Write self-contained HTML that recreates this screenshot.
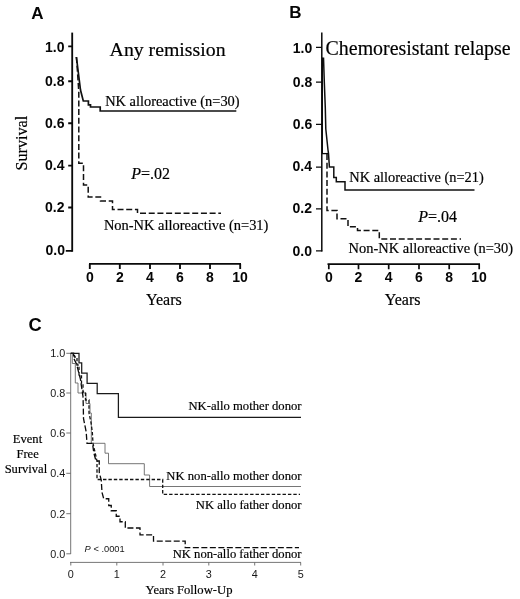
<!DOCTYPE html>
<html><head><meta charset="utf-8"><title>Figure</title>
<style>
html,body{margin:0;padding:0;background:#fff;}
svg{display:block;}
.sb{font-family:"Liberation Sans",Arial,sans-serif;font-weight:bold;fill:#050505;}
.sr{font-family:"Liberation Sans",Arial,sans-serif;fill:#161616;}
.tr{font-family:"Liberation Serif","Times New Roman",serif;fill:#000;stroke:#000;stroke-width:0.18px;}
</style></head><body>
<svg width="520" height="599" viewBox="0 0 520 599">
<rect width="520" height="599" fill="#fff"/>

<!-- ===== Panel A ===== -->
<g id="panelA">
<text class="sb" x="31.2" y="18.7" font-size="17">A</text>
<g stroke="#0a0a0a" stroke-width="1.85" fill="none">
<path d="M72.2 32.6V251.7"/>
<path d="M68.2 46.4H72.5M68.2 81.2H72.5M68.2 123.2H72.5M68.2 165.6H72.5M68.2 207.5H72.5M65.8 250.8H72.5"/>
<path d="M89 263.9H241"/>
<path d="M89.8 264V269M119.8 264V269M150 264V269M180 264V269M210 264V269M240.2 264V269"/>
</g>
<g class="sb" font-size="14" text-anchor="end">
<text x="64.5" y="51.7">1.0</text><text x="64.5" y="85.5">0.8</text><text x="64.5" y="127.8">0.6</text>
<text x="64.5" y="170.4">0.4</text><text x="64.5" y="212.3">0.2</text><text x="65" y="254.7">0.0</text>
</g>
<g class="sb" font-size="14" text-anchor="middle">
<text x="89.8" y="282">0</text><text x="119.8" y="282">2</text><text x="150" y="282">4</text>
<text x="180" y="282">6</text><text x="210" y="282">8</text><text x="240" y="282">10</text>
</g>
<text class="tr" font-size="16.2" transform="translate(27.2 170.6) rotate(-90)">Survival</text>
<text class="tr" font-size="16" x="146" y="304.6">Years</text>
<text class="tr" font-size="19.8" x="109.6" y="55.7">Any remission</text>
<text class="tr" font-size="14.4" x="105.2" y="105.9">NK alloreactive (n=30)</text>
<text class="tr" font-size="14.45" x="103.9" y="230.2">Non-NK alloreactive (n=31)</text>
<text class="tr" font-size="16" x="131.3" y="178.7"><tspan font-style="italic">P</tspan>=.02</text>
<path d="M76.4 57L78 70L80.5 90L83.3 101H88.4V104.8H90.5V107H100.2V111H236.3" stroke="#111" stroke-width="1.7" fill="none"/>
<path d="M76.4 57L77.5 72L78.8 92V163.3H83.5V185H88.2V197H100.5V201H112.5V209.6H137.5V213.2H221" stroke="#111" stroke-width="1.5" fill="none" stroke-dasharray="6 2.7"/>
</g>

<!-- ===== Panel B ===== -->
<g id="panelB">
<text class="sb" x="289.2" y="18.2" font-size="17">B</text>
<g stroke="#0a0a0a" stroke-width="1.3" fill="none">
<path d="M321.8 32.5V251.5" stroke-width="1.5"/>
<path d="M316 47.4H322M316 82.1H322M316 124.3H322M316 167.2H322M316 208.9H322M316 250.9H322.3"/>
<path d="M322 153.6H328.4"/>
<path d="M322.5 57.5V153.6" stroke-width="1"/>
</g>
<g stroke="#0a0a0a" stroke-width="1.7" fill="none">
<path d="M327.5 264.2H480"/>
<path d="M328.8 264.3V269.2M358.5 264.3V269.2M388.7 264.3V269.2M419 264.3V269.2M449.2 264.3V269.2M479.2 264.3V269.2"/>
</g>
<g class="sb" font-size="14" text-anchor="end">
<text x="312.3" y="52.5">1.0</text><text x="312.3" y="87">0.8</text><text x="312.3" y="129.3">0.6</text>
<text x="312" y="171">0.4</text><text x="312" y="212.7">0.2</text><text x="312" y="256">0.0</text>
</g>
<g class="sb" font-size="14" text-anchor="middle">
<text x="328.8" y="282">0</text><text x="358.5" y="282">2</text><text x="388.7" y="282">4</text>
<text x="419" y="282">6</text><text x="449.2" y="282">8</text><text x="479" y="282">10</text>
</g>
<text class="tr" font-size="16" x="384.8" y="304.6">Years</text>
<text class="tr" font-size="19.9" x="325.6" y="54.6">Chemoresistant relapse</text>
<text class="tr" font-size="14.4" x="349.3" y="181.7">NK alloreactive (n=21)</text>
<text class="tr" font-size="14.45" x="348.6" y="253">Non-NK alloreactive (n=30)</text>
<text class="tr" font-size="16" x="418.2" y="222"><tspan font-style="italic">P</tspan>=.04</text>
<path d="M323.5 57.5L324.3 82L325.3 108L325.8 129L328 150L328.5 153.6L329.4 167H333.8V177.5H336.3V181.8H345V190H474.5" stroke="#111" stroke-width="1.5" fill="none"/>
<path d="M327 154V210.5H337V218.8H348V226.8H357.5V230.5H379.3V238.9H461" stroke="#111" stroke-width="1.5" fill="none" stroke-dasharray="6 2.7"/>
</g>

<!-- ===== Panel C ===== -->
<g id="panelC">
<text class="sb" x="28.6" y="331" font-size="18.3">C</text>
<g stroke="#666" stroke-width="0.9" fill="none">
<path d="M70.7 353V554"/>
<path d="M66.3 353.3H70.8M66.3 393H70.8M66.3 433H70.8M66.3 473.3H70.8M66.3 513.7H70.8M66.3 553.8H70.8"/>
<path d="M70 562.4H301"/>
<path d="M70.8 562.4V565.5M116.8 562.4V565.5M163 562.4V565.5M208.8 562.4V565.5M254.7 562.4V565.5M300.7 562.4V565.5"/>
</g>
<g class="sr" font-size="10.8" text-anchor="end">
<text x="65.3" y="357.2">1.0</text><text x="65.3" y="396.8">0.8</text><text x="65.3" y="437">0.6</text>
<text x="65.3" y="477.2">0.4</text><text x="65.3" y="517.6">0.2</text><text x="65.3" y="557.7">0.0</text>
</g>
<g class="sr" font-size="10.8" text-anchor="middle">
<text x="70.8" y="578">0</text><text x="116.8" y="578">1</text><text x="163" y="578">2</text>
<text x="208.8" y="578">3</text><text x="254.7" y="578">4</text><text x="300.7" y="578">5</text>
</g>
<text class="sr" font-size="9.3" x="84.6" y="552" fill="#000"><tspan font-style="italic">P</tspan> &lt; .0001</text>
<g class="tr" font-size="12.55" text-anchor="middle">
<text x="27.5" y="442.6">Event</text><text x="27.6" y="457.6">Free</text><text x="25.9" y="472.7">Survival</text>
</g>
<g class="tr" font-size="12.65" text-anchor="end">
<text x="301.5" y="410">NK-allo mother donor</text>
<text x="301.5" y="479.6">NK non-allo mother donor</text>
<text x="301.5" y="508.8">NK allo father donor</text>
<text x="301.5" y="557.7">NK non-allo father donor</text>
</g>
<text class="tr" font-size="12.65" x="145.6" y="594.4">Years Follow-Up</text>
<!-- NK non-allo mother: thin gray -->
<path d="M70.8 353.3H72.3V363.5H75.3V383H78V393H86V403.5H90V413H91.3V443.3H105V453.2H108.5V463.7H144.3V475H149.6V486.5H301" stroke="#666" stroke-width="0.9" fill="none"/>
<!-- NK allo father: short dash -->
<path d="M70.8 353.3H74.5V357H77V365H79V376H81.5V384H83V392H85.5V400H89V413L91 422.5L92.3 432L93 443.4L95 452L97 461V479.5H162.7V494.4H300" stroke="#111" stroke-width="1.3" fill="none" stroke-dasharray="3.4 2"/>
<!-- NK non-allo father: long dash -->
<path d="M70.8 353.3H73.6V358L76.6 364.2L80.4 379L83 396.5L83.3 407L83.5 418.5L86.2 432L87 443.3H92.5L93.75 452.5L96 461H99.25V472.5L101.25 480L102 492.5L103.75 498.75H108.75V505.5H111.25V510.75H116.25V516.25H120V521.75H125.3V528H140V534.8H153.5V541.2H185.2V547.6H299" stroke="#0a0a0a" stroke-width="1.3" fill="none" stroke-dasharray="6 2.5"/>
<!-- NK-allo mother: bold solid -->
<path d="M70.8 353.3H79V362.8H81.7V373H87.1V383.4H97.2V393.7H118.4V417.3H301" stroke="#1a1a1a" stroke-width="1.25" fill="none"/>
</g>
</svg>
</body></html>
